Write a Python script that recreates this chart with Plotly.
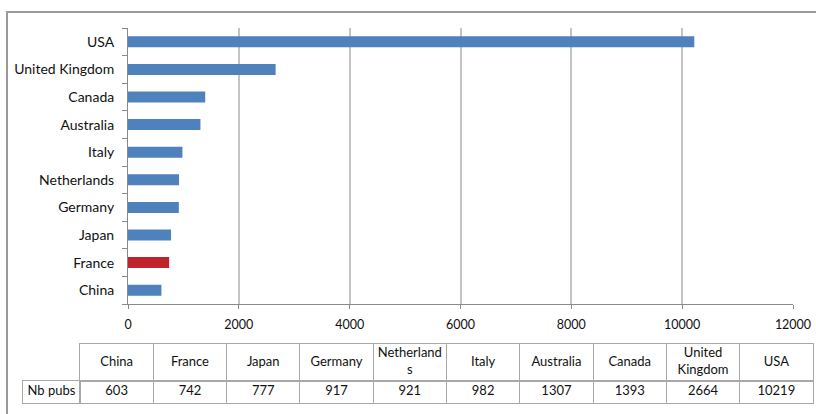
import plotly.graph_objects as go

# Publications per country
countries = ["China", "France", "Japan", "Germany", "Netherlands",
             "Italy", "Australia", "Canada", "United Kingdom", "USA"]
nb_pubs = [603, 742, 777, 917, 921, 982, 1307, 1393, 2664, 10219]
highlight = "France"

# Header labels for the data table (wrapped like the original sheet)
table_headers = ["China", "France", "Japan", "Germany", "Netherland<br>s",
                 "Italy", "Australia", "Canada", "United<br>Kingdom", "USA"]
row_label = "Nb pubs"
x_ticks = [0, 2000, 4000, 6000, 8000, 10000, 12000]

W, H = 816, 414
FONT = "Lato, Carlito, Calibri, sans-serif"
BLUE = "#4F81BD"
RED = "#C0232B"
GRID = "#C4C4C4"
AXIS = "#8A8A8A"
TABLE_LINE = "#A8A8A8"
TXT = "#111111"


def px_x(p):
    return p / W


def px_y(p):
    return (H - p) / H


bar_colors = [RED if c == highlight else BLUE for c in countries]

fig = go.Figure()

# Main horizontal bar chart
fig.add_trace(go.Bar(
    x=nb_pubs, y=countries, orientation="h",
    marker=dict(color=bar_colors, line=dict(width=0)),
    hoverinfo="x+y", showlegend=False,
    xaxis="x", yaxis="y",
))

# Data table: header row, label cell and value row, each on its own axes
fig.add_trace(go.Scatter(
    x=countries, y=[0.5] * len(countries), mode="text",
    text=table_headers, textposition="middle center",
    textfont=dict(family=FONT, size=13, color=TXT),
    hoverinfo="skip", showlegend=False, cliponaxis=False,
    xaxis="x2", yaxis="y2",
))
fig.add_trace(go.Scatter(
    x=countries, y=[0.5] * len(countries), mode="text",
    text=[str(v) for v in nb_pubs], textposition="middle center",
    textfont=dict(family=FONT, size=13, color=TXT),
    hoverinfo="skip", showlegend=False, cliponaxis=False,
    xaxis="x3", yaxis="y3",
))
fig.add_trace(go.Scatter(
    x=[0.5], y=[0.5], mode="text",
    text=[row_label], textposition="middle center",
    textfont=dict(family=FONT, size=13, color=TXT),
    hoverinfo="skip", showlegend=False, cliponaxis=False,
    xaxis="x4", yaxis="y4",
))

table_cat_axis = dict(
    type="category", categoryorder="array", categoryarray=countries,
    range=[-0.5, len(countries) - 0.5],
    showticklabels=False, ticks="",
    showgrid=True, gridcolor=TABLE_LINE, gridwidth=1, tickson="boundaries",
    showline=True, mirror=True, linecolor=TABLE_LINE, linewidth=1,
    zeroline=False, fixedrange=True, automargin=False,
)
table_unit_axis = dict(
    range=[0, 1], showticklabels=False, ticks="", showgrid=False,
    showline=True, mirror=True, linecolor=TABLE_LINE, linewidth=1,
    zeroline=False, fixedrange=True, automargin=False,
)

fig.update_layout(
    width=W, height=H,
    margin=dict(l=0, r=0, t=0, b=0, autoexpand=False),
    paper_bgcolor="white", plot_bgcolor="white",
    font=dict(family=FONT, size=14, color=TXT),
    bargap=0.6,
    xaxis=dict(
        domain=[px_x(128), px_x(793)],
        range=[0, 12000],
        tickvals=x_ticks,
        ticktext=[str(v) for v in x_ticks],
        showgrid=True, gridcolor=GRID, gridwidth=1.5,
        showline=True, linecolor=AXIS, linewidth=1,
        ticks="outside", ticklen=4, tickcolor=AXIS,
        ticklabelstandoff=5,
        zeroline=False,
        tickfont=dict(size=12.5),
        fixedrange=True, automargin=False,
    ),
    yaxis=dict(
        domain=[px_y(304), px_y(28)],
        categoryorder="array", categoryarray=countries,
        showline=True, linecolor=AXIS, linewidth=1,
        ticks="outside", ticklen=5, tickcolor=AXIS,
        tickson="boundaries",
        showgrid=False,
        ticklabelstandoff=10,
        tickfont=dict(size=14),
        fixedrange=True, automargin=False,
    ),
    xaxis2=dict(table_cat_axis, domain=[px_x(80), px_x(813)], anchor="y2"),
    yaxis2=dict(table_unit_axis, domain=[px_y(381), px_y(344)], anchor="x2"),
    xaxis3=dict(table_cat_axis, domain=[px_x(80), px_x(813)], anchor="y3"),
    yaxis3=dict(table_unit_axis, domain=[px_y(403), px_y(381)], anchor="x3"),
    xaxis4=dict(table_unit_axis, domain=[px_x(23), px_x(80)], anchor="y4"),
    yaxis4=dict(table_unit_axis, domain=[px_y(403), px_y(381)], anchor="x4"),
    shapes=[dict(
        type="rect", xref="paper", yref="paper",
        x0=px_x(7), x1=1.05, y0=-0.05, y1=px_y(12),
        line=dict(color="#9A9A9A", width=2),
        fillcolor="rgba(0,0,0,0)", layer="below",
    )],
)

fig.write_html("out.html")
